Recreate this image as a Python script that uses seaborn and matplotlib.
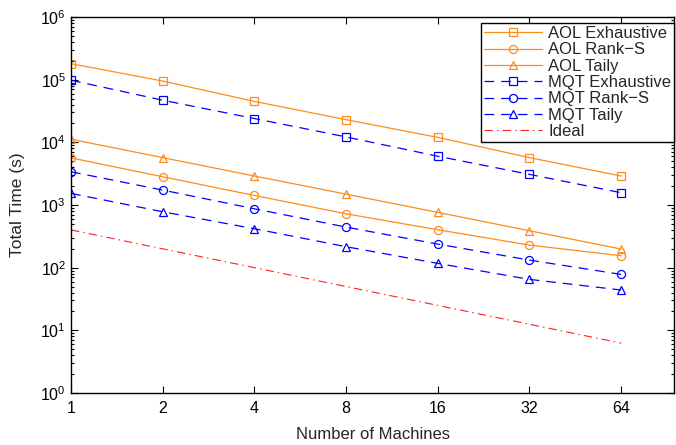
import matplotlib
matplotlib.use("Agg")
import matplotlib.pyplot as plt
import seaborn as sns
import numpy as np
from matplotlib.ticker import FixedLocator, FixedFormatter, LogLocator

machines = [1, 2, 4, 8, 16, 32, 64]
xtick_labels = ["1", "2", "4", "8", "16", "32", "64"]

aol_exhaustive = [180000, 95000, 45000, 23000, 12000, 5700, 2900]
aol_rank_s = [5650, 2820, 1420, 724, 403, 229, 155]
aol_taily = [11200, 5700, 2900, 1490, 762, 388, 198]
mqt_exhaustive = [98000, 47000, 24000, 12200, 6000, 3080, 1570]
mqt_rank_s = [3390, 1730, 870, 444, 238, 132, 78]
mqt_taily = [1530, 780, 418, 216, 117, 65, 44]
ideal = [400, 200, 100, 50, 25, 12.5, 6.25]

sns.set_theme(style="ticks")
plt.rcParams['font.family'] = ['Liberation Sans', 'DejaVu Sans']
plt.rcParams['mathtext.fontset'] = 'custom'
plt.rcParams['mathtext.rm'] = 'Liberation Sans'
plt.rcParams['mathtext.it'] = 'Liberation Sans'
plt.rcParams['mathtext.sf'] = 'Liberation Sans'
plt.rcParams['lines.scale_dashes'] = False

fig = plt.figure(figsize=(6.76, 4.45), dpi=100)
ax = fig.add_axes([71/676, 1 - 393/445, (674-71)/676, (393-17)/445])

orange = '#FF8C1A'
blue = '#0000FF'
red = '#FF2020'
lw = 0.9
ms = 5.8

series = [
    ("AOL Exhaustive", aol_exhaustive, orange, '-', 's'),
    ("AOL Rank\u2212S", aol_rank_s, orange, '-', 'o'),
    ("AOL Taily", aol_taily, orange, '-', '^'),
    ("MQT Exhaustive", mqt_exhaustive, blue, (0, (7, 5)), 's'),
    ("MQT Rank\u2212S", mqt_rank_s, blue, (0, (7, 5)), 'o'),
    ("MQT Taily", mqt_taily, blue, (0, (7, 5)), '^'),
]
for label, vals, col, ls, mk in series:
    sns.lineplot(x=machines, y=vals, ax=ax, color=col, linestyle=ls, linewidth=lw,
                 marker=mk, markersize=ms, markerfacecolor='none',
                 markeredgecolor=col, markeredgewidth=0.9, label=label)
sns.lineplot(x=machines, y=ideal, ax=ax, color=red, linestyle=(0, (6, 3, 1, 3)),
             linewidth=0.8, label="Ideal")

ax.set_xscale('log', base=2)
ax.set_yscale('log')
ax.set_xlim(1, 2 ** 6.576)
ax.set_ylim(1, 1e6)
ax.xaxis.set_major_locator(FixedLocator(machines))
ax.xaxis.set_major_formatter(FixedFormatter(xtick_labels))
ax.xaxis.set_minor_locator(FixedLocator([]))
ax.yaxis.set_major_locator(LogLocator(base=10, numticks=10))
ax.yaxis.set_minor_locator(LogLocator(base=10, subs=np.arange(2, 10), numticks=20))
ax.tick_params(which='both', direction='in', top=True, right=True, colors='black',
               labelsize=11.5, width=0.8)
ax.tick_params(which='major', length=5)
ax.tick_params(which='minor', length=2.5)
ax.tick_params(axis='x', pad=6)
for s in ax.spines.values():
    s.set_visible(True)
    s.set_color('black')
    s.set_linewidth(1.0)

ax.set_xlabel("Number of Machines", fontsize=12, labelpad=8)
ax.set_ylabel("Total Time (s)", fontsize=12.5, labelpad=11)

leg = ax.legend(loc='upper right', bbox_to_anchor=(1.0, 0.984), fontsize=12,
                frameon=True, fancybox=False, edgecolor='black', framealpha=1,
                handlelength=3.5, handletextpad=0.36, borderpad=0.18,
                labelspacing=0.08, borderaxespad=0.0)
leg.get_frame().set_linewidth(1.0)

fig.savefig("out.png", dpi=100)
